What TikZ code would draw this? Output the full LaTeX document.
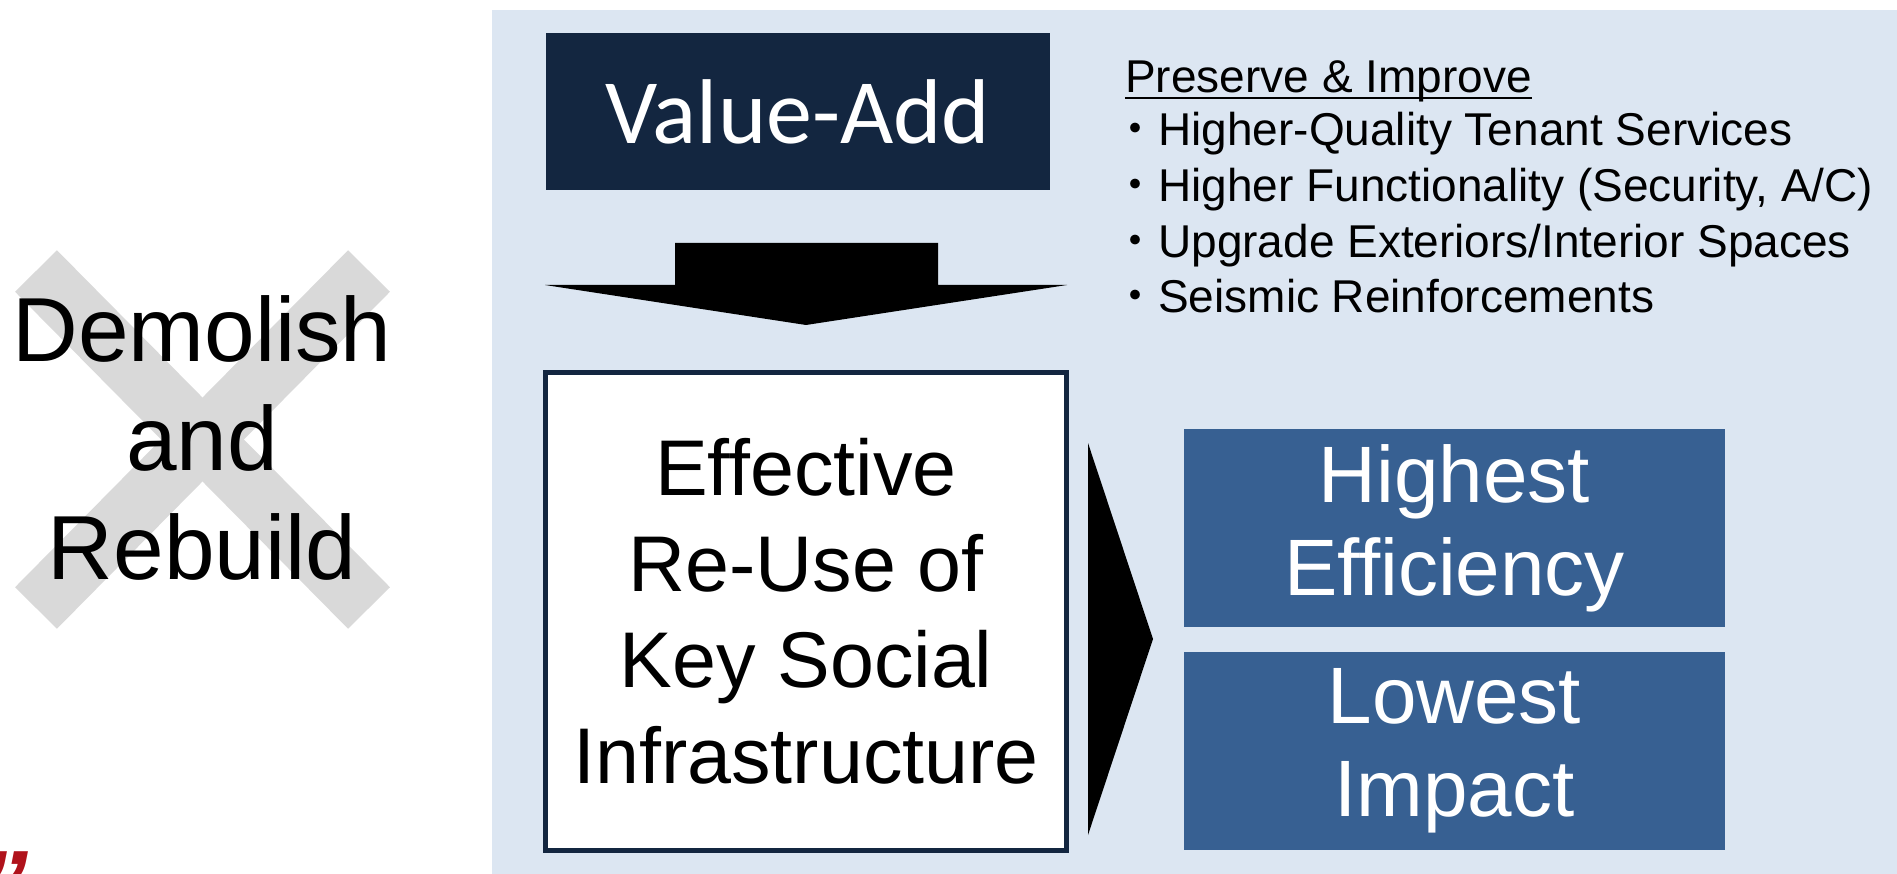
\documentclass[tikz,border=0pt]{standalone}
\usepackage{fontspec}
\setmainfont{Liberation Sans}
\newfontfamily\calibri{Carlito}
\newfontfamily\cjk{Noto Sans CJK JP}
\usetikzlibrary{calc,positioning}

\definecolor{panelblue}{HTML}{DCE6F2}
\definecolor{navy}{HTML}{132640}
\definecolor{midblue}{HTML}{376092}
\definecolor{crossgrey}{HTML}{D9D9D9}
\definecolor{quotered}{HTML}{B0121B}

\begin{document}
\begin{tikzpicture}[x=1pt,y=-1pt,
	resultbox/.style={minimum width=541pt,minimum height=198pt,fill=midblue,text=white,align=center,inner sep=0pt,font=\fontsize{80}{93}\selectfont},
	item/.style={anchor=base west,inner sep=0pt,font=\fontsize{46}{55}\selectfont}]
	\useasboundingbox (0,0) rectangle (1897,874);

	% light blue panel
	\fill[panelblue] (492,10) rectangle (1897,874);

	% crossed out option
	\draw[crossgrey,line width=59pt] (36,271) -- (369,608);
	\draw[crossgrey,line width=59pt] (369,271) -- (36,608);
	\node[align=center,inner sep=0pt,font=\fontsize{91}{109}\selectfont] (demolish) at (202,438) {Demolish\\and\\Rebuild};

	% value-add and the down arrow
	\node[minimum width=504pt,minimum height=157pt,fill=navy,text=white,inner sep=0pt,font=\calibri\fontsize{92}{110}\selectfont] (valueadd) at (798,111.5) {Value-Add};
	\fill (675,243) -- (938,243) -- (938,285) -- (1067,285) -- (806,325) -- (545,285) -- (675,285) -- cycle;

	\node[draw=navy,line width=5pt,fill=white,minimum width=521pt,minimum height=478pt,align=center,inner sep=0pt,font=\fontsize{79}{96}\selectfont] (reuse) at (806,611.5) {Effective\\Re-Use of\\Key Social\\Infrastructure};

	% right arrow
	\fill (1088,443) -- (1153,639) -- (1088,835) -- cycle;

	\node[resultbox] (efficiency) at (1454.5,528) {Highest\\Efficiency};
	\node[resultbox] (impact) at (1454.5,751) {Lowest\\Impact};

	% preserve & improve list
	\node[item] (improve) at (1125,93) {Preserve \& Improve};
	\draw[line width=2.5pt] ($(improve.base west)+(0,5)$) -- ($(improve.base east)+(0,5)$);
	\node[item] (tenant) at (1112,146) {{\cjk ・}Higher-Quality Tenant Services};
	\node[item] (security) at (1112,202) {{\cjk ・}Higher Functionality (Security, A/C)};
	\node[item] (spaces) at (1112,258) {{\cjk ・}Upgrade Exteriors/Interior Spaces};
	\node[item] (seismic) at (1112,313) {{\cjk ・}Seismic Reinforcements};

	% red quote at the edge
	\begin{scope}
		\clip (0,0) rectangle (1897,874);
		\node[anchor=base west,inner sep=0pt,text=quotered,font=\fontsize{100}{100}\selectfont\bfseries\itshape] (quote) at (-22,920) {”};
	\end{scope}
\end{tikzpicture}
\end{document}
